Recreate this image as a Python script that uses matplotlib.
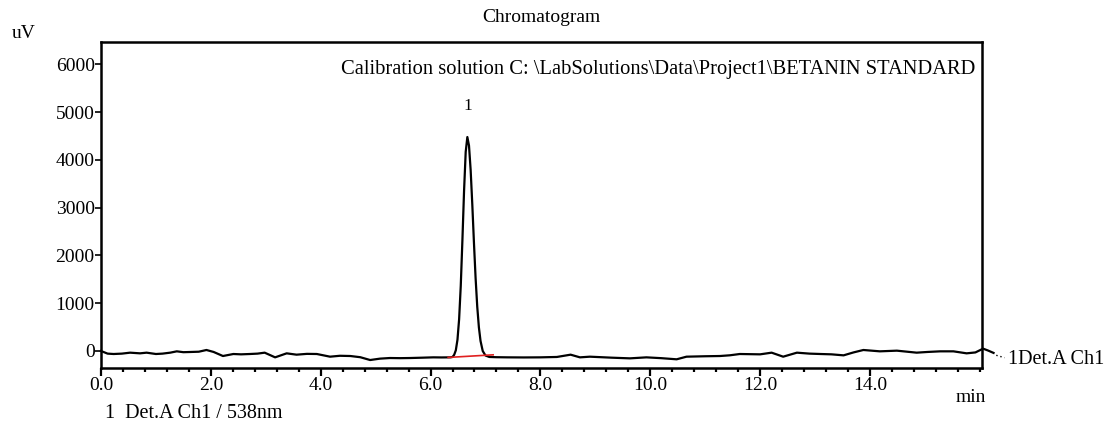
import numpy as np
import matplotlib
matplotlib.use("Agg")
import matplotlib.pyplot as plt
from matplotlib.ticker import MultipleLocator

# Detector trace (time in min, signal in uV)
baseline_pre_t = [0.00, 0.12, 0.23, 0.38, 0.53, 0.71, 0.83, 1.00, 1.12, 1.26, 1.38,
                  1.50, 1.62, 1.78, 1.92, 2.05, 2.22, 2.41, 2.55, 2.71, 2.85, 2.98,
                  3.17, 3.38, 3.56, 3.75, 3.93, 4.17, 4.35, 4.54, 4.72, 4.90, 5.08,
                  5.26, 5.45, 5.63, 5.85, 6.05, 6.20, 6.36]
baseline_pre_v = [0, -55, -63, -55, -35, -49, -35, -63, -55, -35, -7,
                  -25, -21, -15, 21, -20, -105, -63, -70, -63, -55, -35,
                  -133, -49, -77, -60, -63, -119, -100, -105, -130, -189, -160,
                  -147, -150, -147, -140, -133, -135, -133]

peak_t = [6.40, 6.43, 6.46, 6.49, 6.52, 6.55, 6.58, 6.61, 6.64, 6.67,
          6.70, 6.73, 6.76, 6.79, 6.82, 6.85, 6.88, 6.91, 6.95, 7.00, 7.07]
peak_v = [-125, -80, 15, 235, 665, 1365, 2320, 3350, 4170, 4480,
          4300, 3790, 3070, 2270, 1530, 930, 495, 210, 0, -95, -125]

baseline_post_t = [7.20, 7.40, 7.70, 8.00, 8.30, 8.55, 8.72, 8.90, 9.30, 9.63,
                   9.93, 10.20, 10.48, 10.66, 11.00, 11.27, 11.45, 11.63, 12.00,
                   12.21, 12.42, 12.67, 12.90, 13.10, 13.30, 13.52, 13.70, 13.88,
                   14.18, 14.49, 14.85, 15.05, 15.28, 15.52, 15.76, 15.92, 16.06,
                   16.15, 16.25]
baseline_post_v = [-130, -133, -135, -133, -125, -77, -133, -119, -140, -154,
                   -133, -150, -174, -119, -110, -105, -90, -63, -70,
                   -35, -119, -35, -55, -63, -70, -91, -30, 21,
                   -7, 7, -35, -20, -7, -7, -49, -30, 49,
                   10, -40]

# Integration baseline of peak 1
integ_t = [6.32, 7.14]
integ_v = [-135, -80]

x_minor = 0.4
y_ticks = [0, 1000, 2000, 3000, 4000, 5000, 6000]
x_ticks = [0.0, 2.0, 4.0, 6.0, 8.0, 10.0, 12.0, 14.0]
x_labels = ["0.0", "2.0", "4.0", "6.0", "8.0", "10.0", "12.0", "14.0"]

peak_label = "1"
peak_time = 6.67
peak_height = 4480

plt.rcParams["font.family"] = ["Liberation Serif", "DejaVu Serif"]

W, H = 1112, 422
fig = plt.figure(figsize=(W / 100, H / 100), dpi=100)
ax = fig.add_axes([101 / W, 1 - 368 / H, (982 - 101) / W, (368 - 42) / H])

t = np.array(baseline_pre_t + peak_t + baseline_post_t)
v = np.array(baseline_pre_v + peak_v + baseline_post_v)
ax.plot(t, v, color="black", lw=1.6, clip_on=False, zorder=3)
ax.plot(integ_t, integ_v, color="#e02020", lw=1.2, zorder=4)

ax.set_xlim(0, 16.04)
ax.set_ylim(-356, 6470)

ax.set_xticks(x_ticks)
ax.set_xticklabels(x_labels)
ax.xaxis.set_minor_locator(MultipleLocator(x_minor))
ax.set_yticks(y_ticks)
ax.set_yticklabels([str(y) for y in y_ticks])

ax.tick_params(axis="x", which="major", direction="out", length=5.5, width=1.6,
               labelsize=14, pad=1, top=False)
ax.tick_params(axis="x", which="minor", direction="out", length=3, width=1.6, top=False)
ax.tick_params(axis="y", which="major", direction="out", length=4, width=1.2,
               labelsize=14, pad=0.5, right=False)
for s in ax.spines.values():
    s.set_linewidth(1.8)

ax.text(peak_time, peak_height + 650, peak_label, ha="center", va="center", fontsize=12.5)
ax.text(0.992, 0.915, r"Calibration solution C: \LabSolutions\Data\Project1\BETANIN STANDARD",
        transform=ax.transAxes, ha="right", va="center", fontsize=14.8)

fig.text(541 / W, 1 - 18 / H, "Chromatogram", ha="center", va="center", fontsize=14)
fig.text(12 / W, 1 - 33 / H, "uV", ha="left", va="center", fontsize=14)
fig.text(971 / W, 1 - 398 / H, "min", ha="center", va="center", fontsize=14)
fig.text(105 / W, 1 - 414 / H, "1  Det.A Ch1 / 538nm", ha="left", va="center", fontsize=14.5)

# channel tag at the right end of the trace
ax.plot([16.30, 16.45], [-90, -140], color="black", lw=1.0, ls=(0, (1, 2)), clip_on=False)
ax.text(16.52, -170, "1Det.A Ch1", ha="left", va="center", fontsize=14.5)

fig.savefig("out.png", dpi=100)
